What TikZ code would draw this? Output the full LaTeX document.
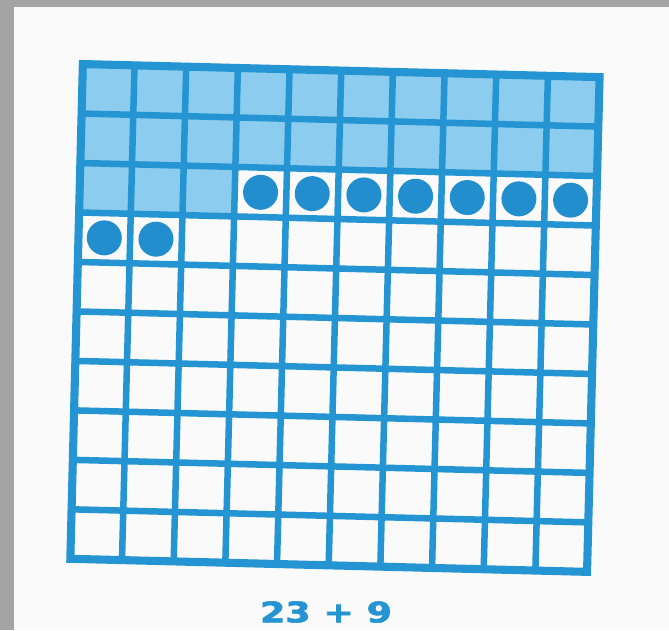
\documentclass[tikz,border=0pt]{standalone}
\usepackage{fontspec}
\setmainfont{DejaVu Sans}
\newfontfamily\sumfont[FakeBold=2]{DejaVu Sans Bold}
\usepackage{graphicx}
\definecolor{gridblue}{RGB}{36,148,210}
\definecolor{shadeblue}{RGB}{140,204,238}
\definecolor{dotblue}{RGB}{34,142,206}
\definecolor{scanframe}{RGB}{164,164,164}
\definecolor{paper}{RGB}{250,250,250}
\begin{document}
\begin{tikzpicture}[
    x=0.02cm, y=-0.02cm,
    gridline/.style={draw=gridblue, line width=3.7pt},
    rim/.style={draw=gridblue, line width=4.6pt, line join=miter},
    shaded/.style={fill=shadeblue},
    counter/.style={fill=dotblue}
]
    \useasboundingbox (0,0) rectangle (669,630);
    \fill[paper] (0,0) rectangle (669,630);
    \fill[scanframe] (0,0) rectangle (14,630);
    \fill[scanframe] (0,0) rectangle (669,7);

    % ten by ten board, a little turned as in the scan
    \begin{scope}[rotate around={-1.45:(335,318)}]
      \begin{scope}[shift={(76.5,70.5)}, x=1.034cm, y=-0.99cm]
        \fill[shaded] (0,0) rectangle (10,2);
        \fill[shaded] (0,2) rectangle (3,3);

        \foreach \c/\r in {3/2,4/2,5/2,6/2,7/2,8/2,9/2,0/3,1/3} {
            \fill[counter] (\c+0.5,\r+0.5) circle (0.35cm);
        }

        \foreach \k in {1,...,9} {
            \draw[gridline] (\k,0) -- (\k,10);
            \draw[gridline] (0,\k) -- (10,\k);
        }
        \draw[rim] (0,0) rectangle (10,10);
      \end{scope}
    \end{scope}

    \node[text=gridblue, inner sep=0pt] (sum) at (326,612)
        {\resizebox{2.64cm}{0.42cm}{\sumfont\bfseries 23 + 9}};
\end{tikzpicture}
\end{document}
